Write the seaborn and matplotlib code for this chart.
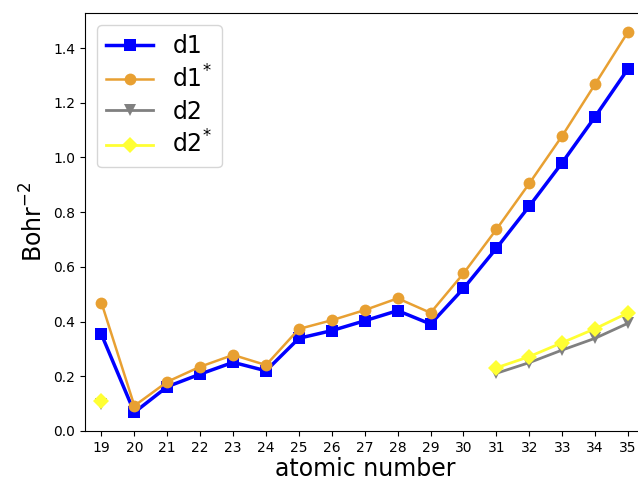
import numpy as np
import pandas as pd
import matplotlib
matplotlib.use("Agg")
import matplotlib.pyplot as plt
import seaborn as sns

atomic_number = list(range(19, 36))
d1 = [0.353, 0.068, 0.162, 0.208, 0.251, 0.220, 0.339, 0.367, 0.403, 0.440, 0.391,
      0.521, 0.668, 0.822, 0.981, 1.149, 1.324]
d1_star = [0.469, 0.092, 0.180, 0.235, 0.278, 0.241, 0.373, 0.405, 0.442, 0.485, 0.432,
           0.576, 0.737, 0.905, 1.079, 1.268, 1.459]
d2_x = [19, 31, 32, 33, 34, 35]
d2 = [0.100, 0.211, 0.250, 0.296, 0.339, 0.394]
d2_star = [0.110, 0.231, 0.272, 0.323, 0.374, 0.432]
d2_seg = [0, 1, 1, 1, 1, 1]

fig = plt.figure(figsize=(6.38, 4.84), dpi=100)
ax = fig.add_axes([85 / 638, 1 - 431 / 484, (644.5 - 85) / 638, (431 - 13) / 484])

df1 = pd.DataFrame({"x": atomic_number, "d1": d1, "d1s": d1_star})
df2 = pd.DataFrame({"x": d2_x, "d2": d2, "d2s": d2_star, "seg": d2_seg})

sns.lineplot(data=df1, x="x", y="d1", ax=ax, color="#0000ff", marker="s",
             markersize=8, markeredgewidth=0, linewidth=2.5, label="d1")
sns.lineplot(data=df1, x="x", y="d1s", ax=ax, color="#e8a032", marker="o",
             markersize=8.5, markeredgewidth=0, linewidth=1.8, label="d1$^{*}$")
for i, seg in enumerate(sorted(set(d2_seg))):
    sub = df2[df2["seg"] == seg]
    sns.lineplot(data=sub, x="x", y="d2", ax=ax, color="#808080", marker="v",
                 markersize=8, markeredgewidth=0, linewidth=2.0,
                 label="d2" if i == 0 else None)
for i, seg in enumerate(sorted(set(d2_seg))):
    sub = df2[df2["seg"] == seg]
    sns.lineplot(data=sub, x="x", y="d2s", ax=ax, color="#ffff33", marker="D",
                 markersize=8, markeredgewidth=0, linewidth=2.0,
                 label="d2$^{*}$" if i == 0 else None)

ax.set_xlim(18.5, 35.5)
ax.set_ylim(0.0, 1.528)
ax.set_xticks(atomic_number)
ax.set_yticks([0.0, 0.2, 0.4, 0.6, 0.8, 1.0, 1.2, 1.4])
ax.tick_params(labelsize=10)
ax.set_xlabel("atomic number", fontsize=17, labelpad=2)
ax.set_ylabel("Bohr$^{-2}$", fontsize=17)
ax.legend(loc="upper left", fontsize=17, labelspacing=0.3)

fig.savefig("out.png", dpi=100)
